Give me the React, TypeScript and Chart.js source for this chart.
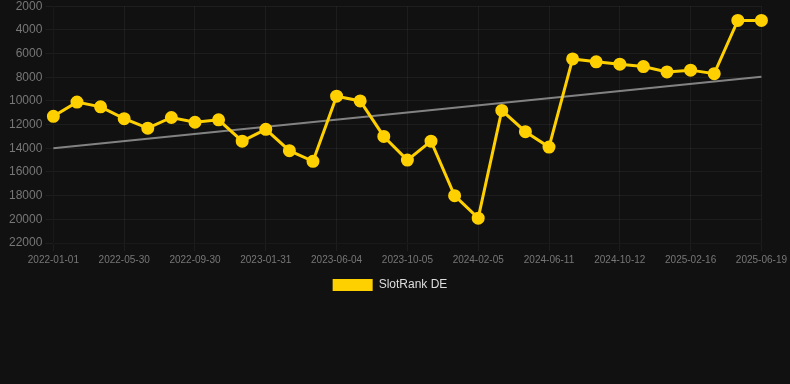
import React, { useEffect, useRef } from "react";
import { Chart, registerables } from "chart.js";

Chart.register(...registerables);

const dateLabels: string[] = [
  "2022-01-01", "2022-02-19", "2022-04-10", "2022-05-30", "2022-07-10", "2022-08-20",
  "2022-09-30", "2022-11-10", "2022-12-21", "2023-01-31", "2023-03-13", "2023-04-24",
  "2023-06-04", "2023-07-15", "2023-08-25", "2023-10-05", "2023-11-15", "2023-12-26",
  "2024-02-05", "2024-03-17", "2024-04-29", "2024-06-11", "2024-07-22", "2024-09-01",
  "2024-10-12", "2024-11-22", "2025-01-04", "2025-02-16", "2025-03-29", "2025-05-09",
  "2025-06-19",
];

const slotRankDE: number[] = [
  11300, 10100, 10500, 11500, 12300, 11400, 11800, 11600, 13400, 12400,
  14200, 15100, 9600, 10000, 13000, 15000, 13400, 18000, 19900, 10800,
  12600, 13900, 6450, 6700, 6900, 7100, 7550, 7400, 7700, 3200, 3200,
];

const trendStart = 14000;
const trendEnd = 7950;

const yMin = 2000;
const yMax = 22000;
const yStep = 2000;

const legendShift = {
  id: "legendShift",
  afterLayout(chart: any) {
    if (chart.legend) {
      chart.legend.left -= 8;
      chart.legend.right -= 8;
    }
  },
};

export default function App() {
  const ref = useRef<HTMLCanvasElement | null>(null);

  useEffect(() => {
    document.body.style.margin = "0";
    document.body.style.background = "#111111";
    const canvas = ref.current;
    if (!canvas) return;
    const trend: (number | null)[] = dateLabels.map((_, i) =>
      i === 0 ? trendStart : i === dateLabels.length - 1 ? trendEnd : null
    );
    const font = "'Liberation Sans', Arial, Helvetica, sans-serif";
    const gridColor = "rgba(255,255,255,0.05)";
    const chart = new Chart(canvas, {
      type: "line",
      data: {
        labels: dateLabels,
        datasets: [
          {
            label: "SlotRank DE",
            data: slotRankDE,
            borderColor: "#ffd000",
            backgroundColor: "#ffd000",
            borderWidth: 3,
            pointRadius: 5,
            pointHoverRadius: 5,
            pointBackgroundColor: "#ffd000",
            pointBorderColor: "#ffd000",
            tension: 0,
          },
          {
            label: "trend",
            data: trend,
            borderColor: "rgba(150,150,150,0.85)",
            backgroundColor: "rgba(150,150,150,0.85)",
            borderWidth: 2,
            pointRadius: 0,
            spanGaps: true,
            tension: 0,
          },
        ],
      },
      plugins: [legendShift],
      options: {
        animation: false,
        responsive: true,
        maintainAspectRatio: false,
        layout: { padding: { left: 6 } },
        font: { family: font },
        plugins: {
          legend: {
            position: "bottom",
            labels: {
              color: "#dddddd",
              font: { family: font, size: 12 },
              filter: (item: any) => item.text !== "trend",
              generateLabels: (c: any) =>
                (Chart.defaults.plugins.legend.labels as any)
                  .generateLabels(c)
                  .map((l: any) => ({ ...l, lineWidth: 0 })),
            },
          },
          tooltip: { enabled: false },
        },
        scales: {
          x: {
            grid: {
              color: (ctx: any) => (ctx.index % 3 === 0 ? gridColor : "rgba(0,0,0,0)"),
            },
            ticks: {
              color: "#777777",
              font: { family: font, size: 10 },
              autoSkip: false,
              maxRotation: 0,
              callback: function (this: any, _v: any, i: number) {
                return i % 3 === 0 ? dateLabels[i] : "";
              },
            },
          },
          y: {
            reverse: true,
            min: yMin,
            max: yMax,
            grid: { color: gridColor },
            ticks: {
              stepSize: yStep,
              color: "#777777",
              font: { family: font, size: 12 },
              callback: (v: any) => String(v),
            },
          },
        },
      },
    });
    return () => chart.destroy();
  }, []);

  return (
    <div style={{ position: "relative", width: 790, height: 305, marginTop: -4 }}>
      <canvas ref={ref} />
    </div>
  );
}
